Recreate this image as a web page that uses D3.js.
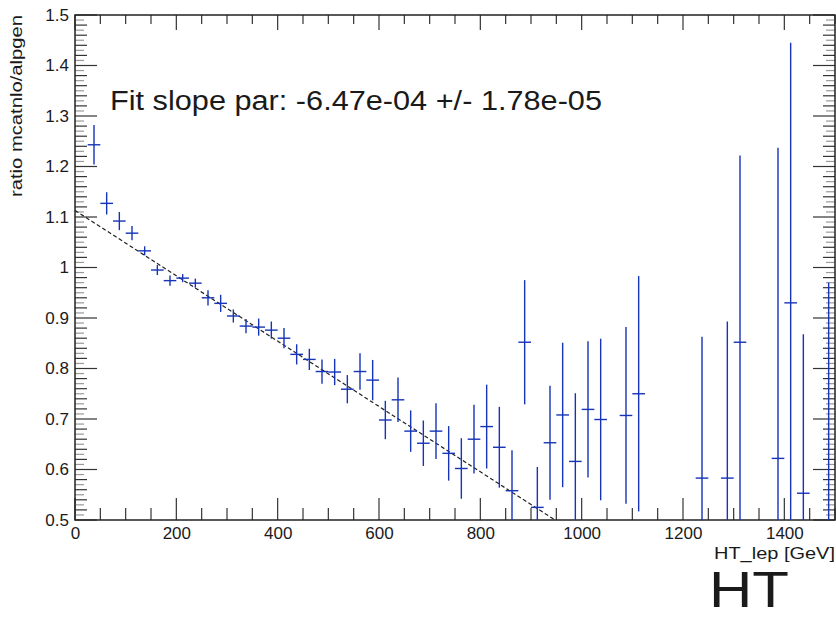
<!DOCTYPE html>
<html>
<head>
<meta charset="utf-8">
<script src="https://cdn.jsdelivr.net/npm/d3@7"></script>
<style>
  html, body { margin: 0; padding: 0; background: #fff; }
  svg { display: block; }
  text { font-family: "Liberation Sans", Arial, sans-serif; fill: #1a1a1a; }
</style>
</head>
<body>
<svg id="chart" width="836" height="618"></svg>
<script>
// ---------- data ----------
const htCenters = [37.5, 62.5, 87.5, 112.5, 137.5, 162.5, 187.5, 212.5, 237.5, 262.5,
  287.5, 312.5, 337.5, 362.5, 387.5, 412.5, 437.5, 462.5, 487.5, 512.5,
  537.5, 562.5, 587.5, 612.5, 637.5, 662.5, 687.5, 712.5, 737.5, 762.5,
  787.5, 812.5, 837.5, 862.5, 887.5, 912.5, 937.5, 962.5, 987.5, 1012.5,
  1037.5, 1087.5, 1112.5, 1237.5, 1287.5, 1312.5, 1387.5, 1412.5, 1437.5, 1487.5];
const ratioValues = [1.243, 1.127, 1.092, 1.068, 1.033, 0.995, 0.974, 0.979, 0.969, 0.940,
  0.929, 0.904, 0.884, 0.882, 0.876, 0.860, 0.828, 0.818, 0.794, 0.793,
  0.759, 0.794, 0.777, 0.698, 0.738, 0.676, 0.652, 0.676, 0.632, 0.602,
  0.660, 0.685, 0.644, 0.558, 0.852, 0.525, 0.653, 0.708, 0.616, 0.719,
  0.699, 0.707, 0.750, 0.583, 0.583, 0.852, 0.622, 0.930, 0.553, 0.450];
const ratioErrors = [0.039, 0.022, 0.018, 0.014, 0.009, 0.010, 0.010, 0.008, 0.009, 0.015,
  0.017, 0.013, 0.014, 0.017, 0.017, 0.020, 0.020, 0.021, 0.024, 0.026,
  0.028, 0.036, 0.040, 0.038, 0.044, 0.041, 0.045, 0.055, 0.054, 0.060,
  0.068, 0.083, 0.080, 0.080, 0.123, 0.080, 0.113, 0.143, 0.135, 0.135,
  0.160, 0.175, 0.233, 0.280, 0.310, 0.370, 0.615, 0.515, 0.315, 0.520];
const binWidth = 25;
const fitIntercept = 1.113;
const fitSlope = -6.47e-4;
const xTickLabels = [0, 200, 400, 600, 800, 1000, 1200, 1400];
const yTickLabels = [0.5, 0.6, 0.7, 0.8, 0.9, 1, 1.1, 1.2, 1.3, 1.4, 1.5];
const fitText = "Fit slope par: -6.47e-04 +/- 1.78e-05";
const xTitle = "HT_lep [GeV]";
const yTitle = "ratio mcatnlo/alpgen";
const bigLabel = "HT";

// ---------- layout ----------
const svg = d3.select("#chart");
const L = 75, R = 835, T = 15, B = 520;
const x = d3.scaleLinear().domain([0, 1500]).range([L, R]);
const y = d3.scaleLinear().domain([0.5, 1.5]).range([B, T]);
const pts = htCenters.map((h, i) => ({h, v: ratioValues[i], e: ratioErrors[i]}));

svg.append("defs").append("clipPath").attr("id", "frame")
  .append("rect").attr("x", L).attr("y", T).attr("width", R - L).attr("height", B - T);

// ticks (ROOT style, inside the frame on all four sides)
const tickG = svg.append("g").attr("stroke", "#333").attr("stroke-width", 1.2);
d3.range(0, 1501, 50).forEach(v => {
  const major = v % 200 === 0;
  tickG.append("line").attr("x1", x(v)).attr("x2", x(v)).attr("y1", B).attr("y2", B - (major ? 22 : 12));
  tickG.append("line").attr("x1", x(v)).attr("x2", x(v)).attr("y1", T).attr("y2", T + (major ? 15 : 9));
});
d3.range(0, 101, 1).forEach(k => {
  const v = 0.5 + k / 100;
  const len = k % 10 === 0 ? 22 : (k % 2 === 0 ? 12 : 9);
  const c = k % 2 === 0 ? "#333" : "#999";
  tickG.append("line").attr("x1", L).attr("x2", L + len).attr("y1", y(v)).attr("y2", y(v)).attr("stroke", c);
  tickG.append("line").attr("x1", R).attr("x2", R - len).attr("y1", y(v)).attr("y2", y(v)).attr("stroke", c);
});

// frame
svg.append("rect").attr("x", L).attr("y", T).attr("width", R - L).attr("height", B - T)
  .attr("fill", "none").attr("stroke", "#222").attr("stroke-width", 1.5);

// axis labels via d3 axis (tick lines hidden, labels kept)
const xAxis = d3.axisBottom(x).tickValues(xTickLabels).tickSize(0).tickPadding(7).tickFormat(d3.format("d"));
const gx = svg.append("g").attr("transform", `translate(0,${B})`).call(xAxis);
gx.select(".domain").remove();
gx.selectAll("text").style("font-size", "17px").attr("fill", "#222")
  .attr("font-family", "Liberation Sans, Arial, sans-serif");

const yAxis = d3.axisLeft(y).tickValues(yTickLabels).tickSize(0).tickPadding(6).tickFormat(d => d3.format("")(d));
const gy = svg.append("g").attr("transform", `translate(${L},0)`).call(yAxis);
gy.select(".domain").remove();
gy.selectAll("text").style("font-size", "17px").attr("fill", "#222")
  .attr("font-family", "Liberation Sans, Arial, sans-serif");

// fit line
const plot = svg.append("g").attr("clip-path", "url(#frame)");
plot.append("line")
  .attr("x1", x(0)).attr("y1", y(fitIntercept))
  .attr("x2", x(1500)).attr("y2", y(fitIntercept + fitSlope * 1500))
  .attr("stroke", "#222").attr("stroke-width", 1.2).attr("stroke-dasharray", "4,2.5");

// data error crosses
const col = "#1634b8";
const g = plot.append("g").attr("stroke", col).attr("stroke-width", 1.4);
g.selectAll("line.v").data(pts).join("line").attr("class", "v")
  .attr("x1", d => x(d.h)).attr("x2", d => x(d.h))
  .attr("y1", d => y(d.v - d.e)).attr("y2", d => y(d.v + d.e));
g.selectAll("line.h").data(pts).join("line").attr("class", "h")
  .attr("x1", d => x(d.h - binWidth / 2)).attr("x2", d => x(d.h + binWidth / 2))
  .attr("y1", d => y(d.v)).attr("y2", d => y(d.v));

// texts
svg.append("text").attr("x", 110).attr("y", 110).text(fitText)
  .style("font-size", "27px").attr("textLength", 492).attr("lengthAdjust", "spacingAndGlyphs");
svg.append("text").attr("x", 835).attr("y", 559).attr("text-anchor", "end").text(xTitle)
  .style("font-size", "17px").attr("textLength", 121).attr("lengthAdjust", "spacingAndGlyphs");
svg.append("text").attr("transform", "translate(22,15) rotate(-90)").attr("text-anchor", "end").text(yTitle)
  .style("font-size", "16px").attr("textLength", 182).attr("lengthAdjust", "spacingAndGlyphs");
svg.append("text").attr("x", 709).attr("y", 607).text(bigLabel)
  .style("font-size", "50px").attr("textLength", 80).attr("lengthAdjust", "spacingAndGlyphs").attr("fill", "#000");
</script>
</body>
</html>
